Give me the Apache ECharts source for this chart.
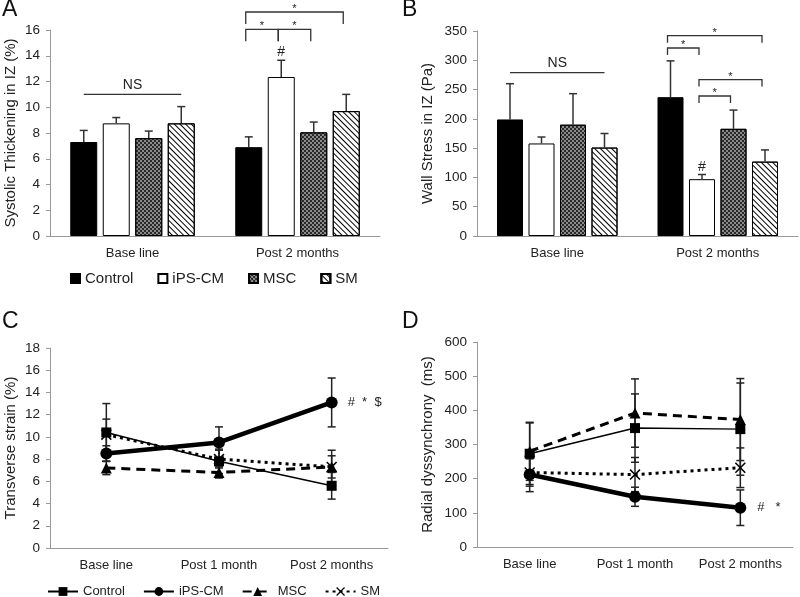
<!DOCTYPE html>
<html><head><meta charset="utf-8">
<script src="https://cdn.jsdelivr.net/npm/echarts@6/dist/echarts.min.js"></script>
<style>html,body{margin:0;padding:0;background:#fff}#c{width:800px;height:597px}</style>
</head><body><div id="c"></div>
<script>
// ---------- data ----------
const groups = ['Control', 'iPS-CM', 'MSC', 'SM'];
const barCategories = ['Base line', 'Post 2 months'];
const lineCategories = ['Base line', 'Post 1 month', 'Post 2 months'];

// A: Systolic thickening in IZ (%)
const thickTicks = [0, 2, 4, 6, 8, 10, 12, 14, 16];
const thickControl = [7.3, 6.9],  thickControlErr = [0.9, 0.8];
const thickIPS     = [8.75, 12.35], thickIPSErr   = [0.45, 1.3];
const thickMSC     = [7.6, 8.05], thickMSCErr     = [0.55, 0.8];
const thickSM      = [8.75, 9.7], thickSMErr      = [1.3, 1.3];
// brackets: [category, fromGroup, toGroup, level]
const thickBrackets = [[1, 0, 3, 17.4], [1, 0, 1, 16.05], [1, 1, 2, 16.05]];
const thickNS = [0, 0, 3, 11.0];
const thickHash = [1, 1, 14.3];

// B: Wall stress in IZ (Pa)
const stressTicks = [0, 50, 100, 150, 200, 250, 300, 350];
const stressControl = [199, 237], stressControlErr = [61, 62];
const stressIPS     = [158, 97],  stressIPSErr     = [11, 8];
const stressMSC     = [190, 183], stressMSCErr     = [53, 32];
const stressSM      = [151, 127], stressSMErr      = [24, 20];
const stressBrackets = [[1, 0, 3, 342], [1, 0, 1, 321], [1, 1, 3, 267], [1, 1, 2, 239]];
const stressNS = [0, 0, 3, 279];
const stressHash = [1, 1, 118];

// C: Transverse strain (%)
const strainTicks = [0, 2, 4, 6, 8, 10, 12, 14, 16, 18];
const strainControl = [10.4, 7.8, 5.6],  strainControlErr = [2.6, 1.1, 1.2];
const strainIPS     = [8.5, 9.5, 13.1],  strainIPSErr     = [0.7, 1.4, 2.2];
const strainMSC     = [7.2, 6.8, 7.3],   strainMSCErr     = [0.6, 0.5, 1.5];
const strainSM      = [10.2, 8.0, 7.3],  strainSMErr      = [1.4, 0.8, 1.0];

// D: Radial dyssynchrony (ms)
const dysTicks = [0, 100, 200, 300, 400, 500, 600];
const dysControl = [273, 348, 345], dysControlErr = [90, 100, 135];
const dysIPS     = [212, 147, 115], dysIPSErr     = [50, 28, 52];
const dysMSC     = [280, 392, 373], dysMSCErr     = [85, 100, 120];
const dysSM      = [218, 212, 232], dysSMErr      = [40, 50, 58];

// ---------- styles ----------
const FONT = '"Liberation Sans", Arial, sans-serif';
const TXT = '#222';
const AX = '#999';
const mscDecal = {symbol: 'rect', symbolSize: 1, dashArrayX: [[2, 2], [0, 2, 2, 0]], dashArrayY: [2, 0], color: 'rgba(30,30,30,0.9)'};
const smDecal = {symbol: 'rect', symbolSize: 1, dashArrayX: [1, 0], dashArrayY: [1, 2.6], rotation: Math.PI / 4, color: '#000'};
const barStyles = [
  {color: '#000', borderColor: '#000', borderWidth: 1},
  {color: '#fff', borderColor: '#000', borderWidth: 1},
  {color: '#8a8a8a', borderColor: '#000', borderWidth: 1, decal: mscDecal},
  {color: '#fff', borderColor: '#000', borderWidth: 1, decal: smDecal}
];
const lineStyles = [
  {width: 1.5, type: 'solid'},
  {width: 4.5, type: 'solid'},
  {width: 3, type: [9, 6]},
  {width: 3, type: [3, 4]}
];
const lineSymbols = ['rect', 'circle', 'triangle', 'path://M0,1L1,0L5,4L9,0L10,1L6,5L10,9L9,10L5,6L1,10L0,9L4,5Z'];
const lineSymbolSizes = [10, 12, 11, 11];

const grids = [
  {left: 50, top: 30, width: 330, height: 206},
  {left: 477, top: 31, width: 321, height: 205},
  {left: 50, top: 348, width: 338, height: 200},
  {left: 477, top: 342, width: 316, height: 205}
];
const barW = [27, 26], barGapPx = [5.5, 5.5];

function xAxis(i, cats) {
  return {type: 'category', gridIndex: i, data: cats,
    axisLine: {lineStyle: {color: AX}}, axisTick: {lineStyle: {color: AX}, length: 4},
    axisLabel: {color: TXT, fontSize: 13, fontFamily: FONT, margin: 11, interval: 0}};
}
function yAxis(i, ticks, name, gap) {
  return {type: 'value', gridIndex: i, min: ticks[0], max: ticks[ticks.length - 1], interval: ticks[1] - ticks[0],
    name: name, nameLocation: 'middle', nameGap: gap,
    nameTextStyle: {color: TXT, fontSize: 15, fontFamily: FONT},
    splitLine: {show: false},
    axisLine: {show: true, lineStyle: {color: AX}}, axisTick: {show: true, length: 4, lineStyle: {color: AX}},
    axisLabel: {color: TXT, fontSize: 13.5, fontFamily: FONT, margin: 10}};
}

function barSeries(pi, names, vals) {
  return vals.map((v, k) => ({
    type: 'bar', name: names[k], xAxisIndex: pi, yAxisIndex: pi, data: v,
    barWidth: barW[pi], barGap: (barGapPx[pi] / barW[pi] * 100) + '%',
    itemStyle: barStyles[k], z: 2
  }));
}
function barErrSeries(pi, vals, errs) {
  const slot = barW[pi] + barGapPx[pi];
  const data = [];
  vals.forEach((v, k) => v.forEach((m, c) => data.push([c, k, m, errs[k][c]])));
  return {type: 'custom', xAxisIndex: pi, yAxisIndex: pi, clip: false, silent: true, z: 3,
    encode: {x: 0, y: 2}, data: data,
    renderItem(params, api) {
      const c = api.value(0), k = api.value(1), m = api.value(2), e = api.value(3);
      const p0 = api.coord([c, m]), p1 = api.coord([c, m + e]);
      const x = p0[0] + (k - 1.5) * slot;
      const st = {stroke: '#333', lineWidth: 1.5};
      return {type: 'group', children: [
        {type: 'line', shape: {x1: x, y1: p0[1], x2: x, y2: p1[1]}, style: st},
        {type: 'line', shape: {x1: x - 4, y1: p1[1], x2: x + 4, y2: p1[1]}, style: st}
      ]};
    }};
}
function annotSeries(pi, brackets, ns, hash, drop) {
  const slot = barW[pi] + barGapPx[pi];
  const items = [];
  brackets.forEach(b => items.push({kind: 'br', b: b}));
  items.push({kind: 'ns', b: ns});
  items.push({kind: 'hash', b: hash});
  return {type: 'custom', xAxisIndex: pi, yAxisIndex: pi, clip: false, silent: true, z: 4,
    data: items.map(it => [it.b[0], it.b[it.b.length - 1]]),
    renderItem(params, api) {
      const it = items[params.dataIndex], b = it.b;
      const p = api.coord([b[0], b[b.length - 1]]);
      const ln = {stroke: '#333', lineWidth: 1.3, fill: 'none'};
      if (it.kind === 'br') {
        const x1 = p[0] + (b[1] - 1.5) * slot - 3, x2 = p[0] + (b[2] - 1.5) * slot - 3, y = p[1];
        return {type: 'group', children: [
          {type: 'polyline', shape: {points: [[x1, y + drop], [x1, y], [x2, y], [x2, y + drop]]}, style: ln},
          {type: 'text', x: (x1 + x2) / 2, y: y - 3, style: {text: '*', fontSize: 11, fontFamily: FONT, fill: TXT, align: 'center', verticalAlign: 'middle'}}
        ]};
      }
      if (it.kind === 'ns') {
        const x1 = p[0] + (b[1] - 1.5) * slot, x2 = p[0] + (b[2] - 1.5) * slot, y = p[1];
        return {type: 'group', children: [
          {type: 'line', shape: {x1: x1, y1: y, x2: x2, y2: y}, style: ln},
          {type: 'text', x: (x1 + x2) / 2, y: y - 9, style: {text: 'NS', fontSize: 14, fontFamily: FONT, fill: TXT, align: 'center', verticalAlign: 'middle'}}
        ]};
      }
      return {type: 'text', x: p[0] + (b[1] - 1.5) * slot, y: p[1], style: {text: '#', fontSize: 14, fontFamily: FONT, fill: TXT, align: 'center', verticalAlign: 'middle'}};
    }};
}
function lineSeries(pi, prefix, vals, tag, tagDist) {
  return vals.map((v, k) => ({
    type: 'line', name: prefix + groups[k], xAxisIndex: pi, yAxisIndex: pi,
    data: v.map((m, i) => (k === 1 && i === v.length - 1) ? {value: m, label: {show: true, position: 'right', distance: tagDist, formatter: tag, fontSize: 13, fontFamily: FONT, color: TXT}} : m),
    symbol: lineSymbols[k], symbolSize: lineSymbolSizes[k], showAllSymbol: true,
    lineStyle: Object.assign({color: '#000'}, lineStyles[k]),
    itemStyle: {color: '#000'}, z: 3 + (k === 1 ? 1 : 0)
  }));
}
function lineErrSeries(pi, vals, errs) {
  const data = [];
  vals.forEach((v, k) => v.forEach((m, c) => data.push([c, m, errs[k][c]])));
  return {type: 'custom', xAxisIndex: pi, yAxisIndex: pi, clip: false, silent: true, z: 2,
    data: data,
    renderItem(params, api) {
      const c = api.value(0), m = api.value(1), e = api.value(2);
      const lo = api.coord([c, m - e]), hi = api.coord([c, m + e]);
      const x = lo[0], st = {stroke: '#222', lineWidth: 1.5};
      return {type: 'group', children: [
        {type: 'line', shape: {x1: x, y1: lo[1], x2: x, y2: hi[1]}, style: st},
        {type: 'line', shape: {x1: x - 4, y1: hi[1], x2: x + 4, y2: hi[1]}, style: st},
        {type: 'line', shape: {x1: x - 4, y1: lo[1], x2: x + 4, y2: lo[1]}, style: st}
      ]};
    }};
}

const thickVals = [thickControl, thickIPS, thickMSC, thickSM];
const thickErrs = [thickControlErr, thickIPSErr, thickMSCErr, thickSMErr];
const stressVals = [stressControl, stressIPS, stressMSC, stressSM];
const stressErrs = [stressControlErr, stressIPSErr, stressMSCErr, stressSMErr];
const strainVals = [strainControl, strainIPS, strainMSC, strainSM];
const strainErrs = [strainControlErr, strainIPSErr, strainMSCErr, strainSMErr];
const dysVals = [dysControl, dysIPS, dysMSC, dysSM];
const dysErrs = [dysControlErr, dysIPSErr, dysMSCErr, dysSMErr];

const letter = (t, x, y) => ({type: 'text', left: x, top: y, style: {text: t, fontSize: 23, fontFamily: FONT, fill: '#111'}});

const option = {
  animation: false,
  textStyle: {fontFamily: FONT},
  grid: grids,
  xAxis: [xAxis(0, barCategories), xAxis(1, barCategories), xAxis(2, lineCategories), xAxis(3, lineCategories)],
  yAxis: [
    yAxis(0, thickTicks, 'Systolic Thickening in IZ (%)', 32),
    yAxis(1, stressTicks, 'Wall Stress in IZ (Pa)', 42),
    yAxis(2, strainTicks, 'Transverse strain (%)', 32),
    yAxis(3, dysTicks, 'Radial dyssynchrony  (ms)', 42)
  ],
  legend: [
    {data: groups, left: 65, top: 266, itemWidth: 9, itemHeight: 9, itemGap: 24, icon: 'rect',
      textStyle: {fontSize: 15, color: TXT, fontFamily: FONT}, selectedMode: false},
    {data: groups.map(g => 'C:' + g), left: 42, top: 580, itemWidth: 30, itemHeight: 11, itemGap: 18,
      formatter: n => n.slice(2), textStyle: {fontSize: 13, color: TXT, fontFamily: FONT}, selectedMode: false}
  ],
  graphic: [letter('A', 2, -2), letter('B', 402, -2), letter('C', 2, 310), letter('D', 402, 310)],
  series: [].concat(
    barSeries(0, groups, thickVals),
    [barErrSeries(0, thickVals, thickErrs), annotSeries(0, thickBrackets, thickNS, thickHash, 12)],
    barSeries(1, groups, stressVals),
    [barErrSeries(1, stressVals, stressErrs), annotSeries(1, stressBrackets, stressNS, stressHash, 7)],
    lineSeries(2, 'C:', strainVals, '#  *  $', 10),
    [lineErrSeries(2, strainVals, strainErrs)],
    lineSeries(3, 'D:', dysVals, '#   *', 11),
    [lineErrSeries(3, dysVals, dysErrs)]
  )
};
const chart = echarts.init(document.getElementById('c'), null, {renderer: 'canvas'});
chart.setOption(option);
</script></body></html>
